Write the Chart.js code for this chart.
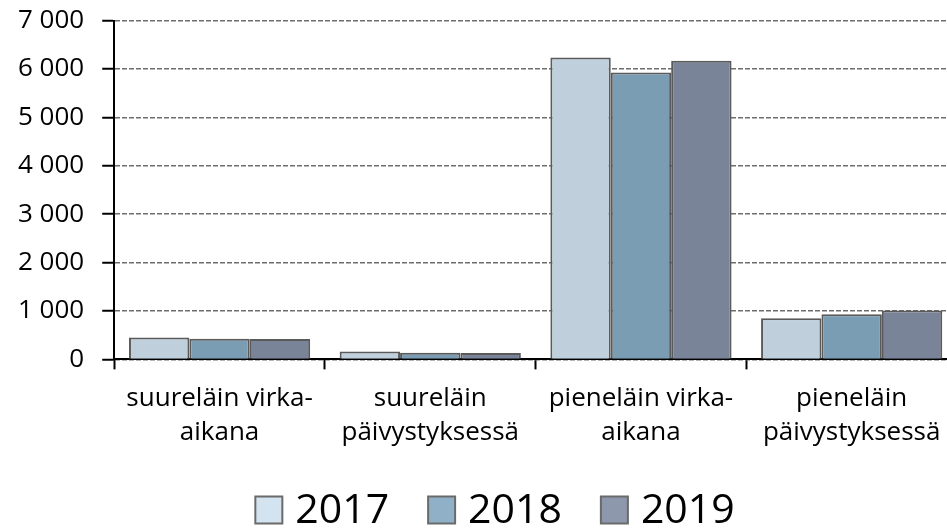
<!DOCTYPE html>
<html>
<head>
<meta charset="utf-8">
<script src="https://cdn.jsdelivr.net/npm/chart.js@4.4.0/dist/chart.umd.min.js"></script>
<style>
  html, body { margin: 0; padding: 0; background: #fff; overflow: hidden; }
  #wrap { width: 957px; height: 541px; margin-top: -13px; }
</style>
</head>
<body>
<div id="wrap"><canvas id="chart"></canvas></div>
<script>
// data
const categories = [
  ["suureläin virka-", "aikana"],
  ["suureläin", "päivystyksessä"],
  ["pieneläin virka-", "aikana"],
  ["pieneläin", "päivystyksessä"],
];
const years = ["2017", "2018", "2019"];
const values2017 = [455, 165, 6240, 850];
const values2018 = [428, 135, 5930, 935];
const values2019 = [420, 130, 6170, 1010];
const yTicks = [0, 1000, 2000, 3000, 4000, 5000, 6000, 7000];

const barColors = ["#BFD0DC", "#7A9DB4", "#7A8499"];
const legendColors = ["#D3E4F0", "#90B0C8", "#8E98AD"];
const FONT = "'Open Sans'";

// legend drawn under the chart, spaced like the original
const bottomLegend = {
  id: "bottomLegend",
  afterDraw(chart) {
    const c = chart.ctx;
    c.save();
    c.font = "41px " + FONT;
    c.textBaseline = "middle";
    const box = 27, gap = 13, space = 39, y = 523;
    const widths = years.map((t) => c.measureText(t).width);
    const total = widths.reduce((a, w) => a + box + gap + w, 0) + space * (years.length - 1);
    let x = 495 - total / 2;
    years.forEach((t, i) => {
      c.fillStyle = legendColors[i];
      c.strokeStyle = "#6a6a6a";
      c.lineWidth = 2;
      c.fillRect(x, y - box / 2, box, box);
      c.strokeRect(x, y - box / 2, box, box);
      c.fillStyle = "#000";
      c.fillText(t, x + box + gap, y + 1);
      x += box + gap + widths[i] + space;
    });
    c.restore();
  },
};

const ctx = document.getElementById("chart").getContext("2d");
const chart = new Chart(ctx, {
  type: "bar",
  data: {
    labels: categories,
    datasets: [values2017, values2018, values2019].map((d, i) => ({
      label: years[i],
      data: d,
      backgroundColor: barColors[i],
      borderColor: "#5a5a5a",
      borderWidth: 2,
      barPercentage: 1,
      categoryPercentage: 0.86,
    })),
  },
  options: {
    responsive: true,
    maintainAspectRatio: false,
    animation: false,
    layout: { padding: { top: 0, left: 0, right: 0, bottom: 67 } },
    plugins: {
      tooltip: { enabled: false },
      legend: { display: false },
    },
    scales: {
      x: {
        grid: {
          drawOnChartArea: false,
          drawTicks: true,
          tickLength: 10,
          tickColor: "#000",
          tickWidth: 2,
          offset: true,
        },
        border: { color: "#000", width: 2 },
        ticks: {
          color: "#000",
          font: { family: FONT, size: 26, lineHeight: 1.3 },
          maxRotation: 0,
          autoSkip: false,
          padding: 12,
        },
      },
      y: {
        min: 0,
        max: 7000,
        afterBuildTicks: (axis) => {
          axis.ticks = yTicks.map((v) => ({ value: v }));
        },
        grid: {
          color: "#6e6e6e",
          lineWidth: 1.5,
          tickLength: 12,
          tickColor: "#000",
          tickWidth: 2,
        },
        border: { color: "#000", width: 2, dash: [5, 2] },
        ticks: {
          color: "#000",
          font: { family: FONT, size: 26 },
          padding: 18,
          callback: (v) => String(v).replace(/\B(?=(\d{3})+(?!\d))/g, " "),
        },
      },
    },
  },
  plugins: [bottomLegend],
});
</script>
</body>
</html>
